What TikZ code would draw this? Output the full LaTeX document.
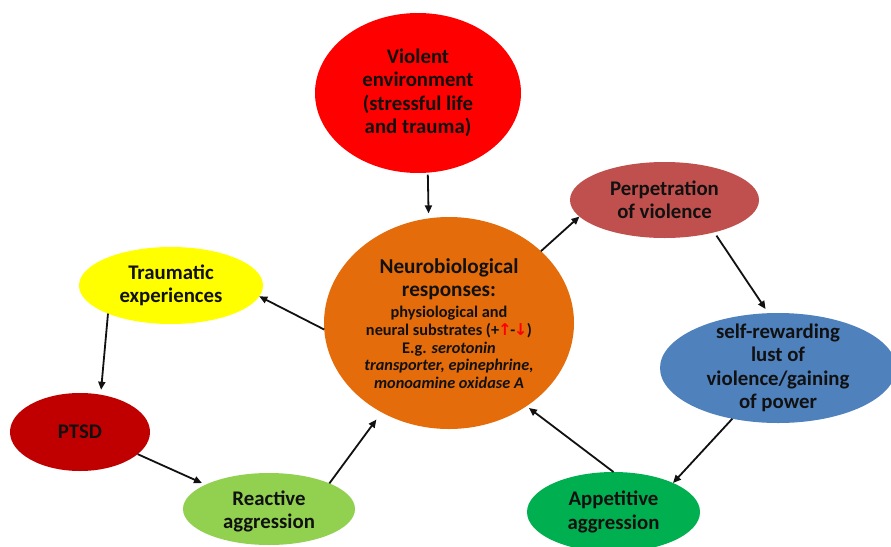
\documentclass[tikz,border=0pt]{standalone}
\usepackage{fontspec}
\setmainfont{Carlito}
\newfontfamily\symfont{DejaVu Sans}
\usetikzlibrary{shapes.geometric,arrows.meta}
\definecolor{vred}{HTML}{FF0000}
\definecolor{corange}{HTML}{E46C0A}
\definecolor{pred}{HTML}{C0504D}
\definecolor{tyellow}{HTML}{FFFF00}
\definecolor{sblue}{HTML}{4F81BD}
\definecolor{agreen}{HTML}{00B050}
\definecolor{ptsdred}{HTML}{C00000}
\definecolor{rgreen}{HTML}{92D050}
\definecolor{ink}{HTML}{111111}
\newcommand\redup{{\symfont\color{red}\kern-1pt↑\kern-1.5pt}}
\newcommand\reddown{{\symfont\color{red}\kern-1.5pt↓\kern-0.5pt}}
\tikzset{
  ell/.style={ellipse, inner sep=0pt, outer sep=0pt, draw=none},
  lbl/.style={font=\bfseries\fontsize{20.8}{23.5}\selectfont, align=center, text=ink, inner sep=0pt},
  small/.style={font=\bfseries\fontsize{16.3}{17.8}\selectfont, align=center, text=ink, inner sep=0pt},
  arr/.style={-{Triangle[length=8pt,width=7pt]}, line width=1.8pt, ink}
}
\begin{document}
\begin{tikzpicture}[x=1pt,y=-1pt]
\clip (0,0) rectangle (891,546);
\fill[white] (0,0) rectangle (891,546);
% ellipses
\node[ell, fill=vred, minimum width=206pt, minimum height=160pt] (v) at (418,93) {};
\node[ell, fill=corange, minimum width=250pt, minimum height=212pt] (c) at (449,323) {};
\node[ell, fill=pred, minimum width=189pt, minimum height=76pt] (p) at (664.5,200) {};
\node[ell, fill=tyellow, minimum width=184pt, minimum height=77pt] (tr) at (171,285.5) {};
\node[ell, fill=sblue, minimum width=236pt, minimum height=110pt] (sr) at (778,368) {};
\node[ell, fill=agreen, minimum width=173pt, minimum height=80pt] (ap) at (613.5,512) {};
\node[ell, fill=ptsdred, minimum width=140pt, minimum height=78pt] (pt) at (80,432) {};
\node[ell, fill=rgreen, minimum width=172pt, minimum height=72pt] (ra) at (269,509) {};
% texts
\node[lbl] (v-t) at (v) {Violent\\environment\\(stressful life\\and trauma)};
\node[lbl, font=\bfseries\fontsize{21.2}{23}\selectfont] (c-t) at (449,279.5) {Neurobiological\\responses:};
\node[small] (c-b) at (449,347.5) {physiological and\\neural substrates (+\redup-\reddown)\\E.g. \textit{serotonin}\\\textit{transporter, epinephrine,}\\\textit{monoamine oxidase A}};
\node[lbl] (p-t) at (p) {Perpetration\\of violence};
\node[lbl] (tr-t) at (tr) {Traumatic\\experiences};
\node[lbl] (sr-t) at (sr) {self-rewarding\\lust of\\violence/gaining\\of power};
\node[lbl] (ap-t) at (ap) {Appetitive\\aggression};
\node[lbl] (pt-t) at (pt) {PTSD};
\node[lbl, yshift=-2.5pt] (ra-t) at (ra) {Reactive\\aggression};
% connectors
\draw[arr, shorten <=2pt, shorten >=5pt] (v.-83) -- (c.101);
\draw[arr] (c.38) -- (p.191);
\draw[arr, shorten <=4pt, shorten >=5pt] (p.-33) -- (sr.100);
\draw[arr] (sr.228) -- (ap.26);
\draw[arr, shorten >=3pt] (ap.90) -- (c.-47);
\draw[arr, shorten >=9pt] (ra.23) -- (c.233);
\draw[arr, shorten >=4pt] (pt.-21) -- (ra.159);
\draw[arr, shorten >=5pt] (tr.204) -- (pt.61);
\draw[arr] (c.183) -- (tr.-7);
\end{tikzpicture}
\end{document}
